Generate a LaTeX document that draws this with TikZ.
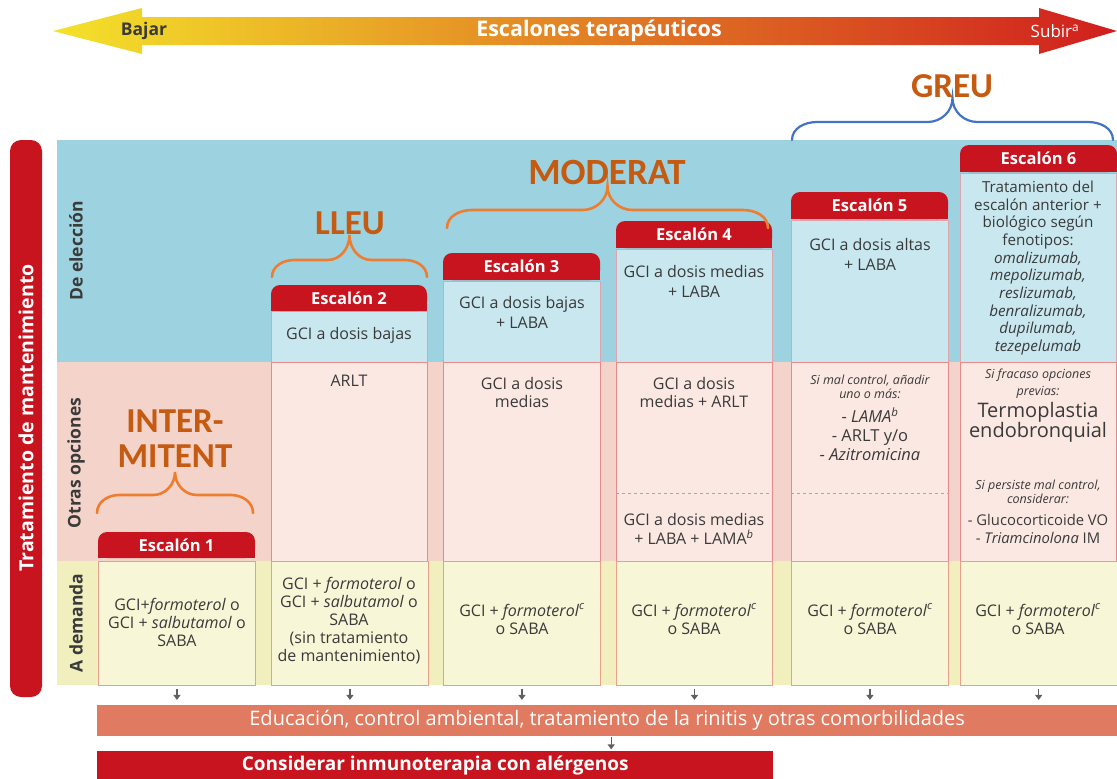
\documentclass[tikz,border=0pt]{standalone}
\usepackage{fontspec}
\setmainfont{Open Sans}
\newfontfamily\clfont{Carlito}
\usetikzlibrary{arrows.meta}
\definecolor{escred}{HTML}{C8141E}
\definecolor{bandblue}{HTML}{9DD2E0}
\definecolor{cellblue}{HTML}{C8E7EF}
\definecolor{bandpink}{HTML}{F4D4CA}
\definecolor{cellpink}{HTML}{FBE8E2}
\definecolor{bandyel}{HTML}{F2EFBE}
\definecolor{cellyel}{HTML}{F7F6D6}
\definecolor{bordpink}{HTML}{E48C8C}
\definecolor{bordblue}{HTML}{DDA4AE}
\definecolor{bordyel}{HTML}{E8A08A}
\definecolor{edubar}{HTML}{E07A60}
\definecolor{txt}{HTML}{3A3A3A}
\definecolor{lbl}{HTML}{C55A11}
\definecolor{brorange}{HTML}{ED7D31}
\definecolor{brblue}{HTML}{4472C4}
\definecolor{arrYel}{HTML}{F4E22A}
\definecolor{arrOrg}{HTML}{E5891E}
\definecolor{arrRed}{HTML}{D01E1E}
\definecolor{arrgrey}{HTML}{606060}
\newcommand\escbox[6]{%
  \fill[escred, rounded corners=9pt] (#2,#3) rectangle (#4,#5);
  \fill[escred] (#2,{(#3+#5)/2}) rectangle (#4,#5);
  \node[esctext] (#1) at ({(#2+#4)/2},{(#3+#5)/2}) {#6};}
\newcommand\bracedraw[7]{%
  \pgfmathsetmacro\bxa{#2+#7}%
  \pgfmathsetmacro\bxm{(#2+#3)/2}%
  \pgfmathsetmacro\bxb{(#2+#3)/2-#7}%
  \pgfmathsetmacro\bxc{(#2+#3)/2+#7}%
  \pgfmathsetmacro\bxd{#3-#7}%
  \draw[#1] (#2,#4) to[out=90,in=180] (\bxa,#5) -- (\bxb,#5)
    to[out=0,in=-90] (\bxm,#6) to[out=-90,in=180] (\bxc,#5)
    -- (\bxd,#5) to[out=0,in=90] (#3,#4);}
\begin{document}
\begin{tikzpicture}[x=1pt,y=-1pt,
  esctext/.style={text=white, font=\bfseries\fontsize{16.5}{18}\selectfont, inner sep=0},
  body/.style={text=txt, align=center, inner sep=0, font=\fontsize{16}{18}\selectfont},
  small/.style={text=txt, align=center, inner sep=0, font=\itshape\fontsize{12.5}{14}\selectfont},
  bluecell/.style={fill=cellblue, draw=bordblue, line width=0.9pt},
  pinkcell/.style={fill=cellpink, draw=bordpink, line width=0.9pt},
  yelcell/.style={fill=cellyel, draw=bordyel, line width=0.9pt, anchor=north west, minimum width=157pt, minimum height=124pt, inner sep=0},
  rowlbl/.style={rotate=90, text=txt, font=\bfseries\fontsize{17.5}{18}\selectfont},
  biglbl/.style={text=lbl, font=\clfont\bfseries\fontsize{35}{35}\selectfont, inner sep=0},
  obrace/.style={brorange, line width=2.6pt, line cap=round},
  bbrace/.style={brblue, line width=2.2pt, line cap=round},
  smallarr/.style={arrgrey, line width=1.3pt, -{Triangle[length=5pt,width=7pt]}}
]
\useasboundingbox (0,0) rectangle (1117,779);
\fill[white] (0,0) rectangle (1117,779);
% top arrow
\shade[left color=arrYel, middle color=arrOrg, right color=arrRed]
  (53,31) -- (142,8) -- (142,17) -- (1039,17) -- (1039,8) -- (1117,31)
  -- (1039,54) -- (1039,45) -- (142,45) -- (142,54) -- cycle;
\node[text=txt, font=\bfseries\fontsize{17.5}{18}\selectfont] (bajar) at (144,31) {Bajar};
\node[text=white, font=\bfseries\fontsize{21.5}{22}\selectfont] (esc) at (599,31) {Escalones terapéuticos};
\node[text=white, font=\fontsize{17}{18}\selectfont] (subir) at (1055,31) {Subir\textsuperscript{a}};
% left bar
\fill[escred, rounded corners=11pt] (10,140) rectangle (42,697);
\node[rotate=90, text=white, font=\bfseries\fontsize{19.5}{20}\selectfont] (trat) at (26,418) {Tratamiento de mantenimiento};
% bands
\fill[bandblue] (57,140) rectangle (1117,362);
\fill[bandpink] (57,362) rectangle (1117,561);
\fill[bandyel] (57,561) rectangle (1117,685);
\node[rowlbl] (rl1) at (76,251) {De elección};
\node[rowlbl] (rl2) at (76,463) {Otras opciones};
\node[rowlbl] (rl3) at (76,623) {A demanda};
% blue cells
\draw[bluecell] (271,311) rectangle (427,362);
\draw[bluecell] (443,281) rectangle (600,362);
\draw[bluecell] (616,249) rectangle (772,362);
\draw[bluecell] (791,220) rectangle (948,362);
\draw[bluecell] (960,173) rectangle (1116.5,362);
% pink cells
\draw[pinkcell] (271,362) rectangle (427,561);
\draw[pinkcell] (443,362) rectangle (600,561);
\draw[pinkcell] (616,362) rectangle (772,561);
\draw[pinkcell] (791,362) rectangle (948,561);
\draw[pinkcell] (960,362) rectangle (1116.5,561);
\draw[bordpink, dashed, line width=0.6pt] (616,493) -- (772,493);
\draw[bordpink, dashed, line width=0.6pt] (791,493) -- (948,493);
% yellow cells
\node[yelcell] (y1) at (98,561) {};
\node[yelcell] (y2) at (271,561) {};
\node[yelcell, minimum width=157pt] (y3) at (443,561) {};
\node[yelcell, minimum width=156pt] (y4) at (616,561) {};
\node[yelcell] (y5) at (791,561) {};
\node[yelcell, minimum width=156.5pt] (y6) at (960,561) {};
% headers
\escbox{h1}{98}{532}{255}{558}{Escalón 1}
\escbox{h2}{271}{285}{427}{311}{Escalón 2}
\escbox{h3}{443}{253}{600}{280}{Escalón 3}
\escbox{h4}{616}{221}{772}{248}{Escalón 4}
\escbox{h5}{791}{192}{948}{219}{Escalón 5}
\escbox{h6}{960}{145}{1117}{172}{Escalón 6}
% blue texts
\node[body] (b2) at (349,335) {GCI a dosis bajas};
\node[body, font=\fontsize{16}{20}\selectfont] (b3) at (522,312) {GCI a dosis bajas\\+ LABA};
\node[body, font=\fontsize{16}{20}\selectfont] (b4) at (694,281) {GCI a dosis medias\\+ LABA};
\node[body, font=\fontsize{16}{20}\selectfont] (b5) at (870,254) {GCI a dosis altas\\+ LABA};
\node[body, font=\fontsize{15.2}{17.7}\selectfont] (b6) at (1038,268) {Tratamiento del\\escalón anterior +\\biológico según\\fenotipos:\\\textit{omalizumab,}\\\textit{mepolizumab,}\\\textit{reslizumab,}\\\textit{benralizumab,}\\\textit{dupilumab,}\\\textit{tezepelumab}};
% pink texts
\node[body] (p2) at (349,381) {ARLT};
\node[body] (p3) at (522,392) {GCI a dosis\\medias};
\node[body] (p4a) at (694,392) {GCI a dosis\\medias + ARLT};
\node[body, font=\fontsize{16}{19.5}\selectfont] (p4b) at (694,529) {GCI a dosis medias\\+ LABA + LAMA\textsuperscript{\textit{b}}};
\node[small] (p5a) at (870,386.5) {Si mal control, añadir\\uno o más:};
\node[body, font=\fontsize{16.5}{19}\selectfont] (p5b) at (870,434) {- \textit{LAMA}\textsuperscript{\textit{b}}\\- ARLT y/o\\- \textit{Azitromicina}};
\node[small, font=\itshape\fontsize{12.5}{16.5}\selectfont] (p6a) at (1038,383.5) {Si fracaso opciones\\previas:};
\node[body, font=\fontsize{20}{20}\selectfont] (p6b) at (1038,422.5) {Termoplastia\\endobronquial};
\node[small] (p6c) at (1038,491.5) {Si persiste mal control,\\considerar:};
\node[body, font=\fontsize{14.8}{18}\selectfont] (p6d) at (1038,528.5) {- Glucocorticoide VO\\- \textit{Triamcinolona} IM};
% yellow texts
\node[body] (t1) at (177,622) {GCI+\textit{formoterol} o\\GCI + \textit{salbutamol} o\\SABA};
\node[body] (t2) at (349,620.5) {GCI + \textit{formoterol} o\\GCI + \textit{salbutamol} o\\SABA\\(sin tratamiento\\de mantenimiento)};
\node[body] (t3) at (522,619) {GCI + \textit{formoterol}\textsuperscript{\textit{c}}\\o SABA};
\node[body] (t4) at (694,619) {GCI + \textit{formoterol}\textsuperscript{\textit{c}}\\o SABA};
\node[body] (t5) at (870,619) {GCI + \textit{formoterol}\textsuperscript{\textit{c}}\\o SABA};
\node[body] (t6) at (1038,619) {GCI + \textit{formoterol}\textsuperscript{\textit{c}}\\o SABA};
% braces and labels
\bracedraw{obrace}{97}{253}{513}{495}{472}{22}
\node[biglbl] (inter) at (175,421) {INTER-};
\node[biglbl] (mit) at (175,456) {MITENT};
\bracedraw{obrace}{272}{427}{277}{260}{235}{22}
\node[biglbl] (lleu) at (350,223) {LLEU};
\bracedraw{obrace}{447}{768}{228}{210}{186}{25}
\node[biglbl, font=\clfont\bfseries\fontsize{37}{37}\selectfont] (mod) at (607,172) {MODERAT};
\bracedraw{bbrace}{792}{1113}{140}{122}{98}{25}
\node[biglbl] (greu) at (952,86) {GREU};
% bottom bars
\node[fill=edubar, anchor=north west, minimum width=1020pt, minimum height=31pt, inner sep=0, text=white, font=\fontsize{20}{20}\selectfont] (edu) at (97,705) {Educación, control ambiental, tratamiento de la rinitis y otras comorbilidades};
\node[fill=escred, anchor=north west, minimum width=676pt, minimum height=28pt, inner sep=0, text=white, font=\bfseries\fontsize{19}{20}\selectfont] (imm) at (97,751) {Considerar inmunoterapia con alérgenos};
\foreach \c in {y1,y2,y3,y4,y5,y6}
  \draw[smallarr] ([yshift=-3pt]\c.south) -- ([yshift=-14pt]\c.south);
\draw[smallarr] ([xshift=4pt,yshift=-1pt]edu.south) -- ([xshift=4pt,yshift=-13pt]edu.south);
\end{tikzpicture}
\end{document}
